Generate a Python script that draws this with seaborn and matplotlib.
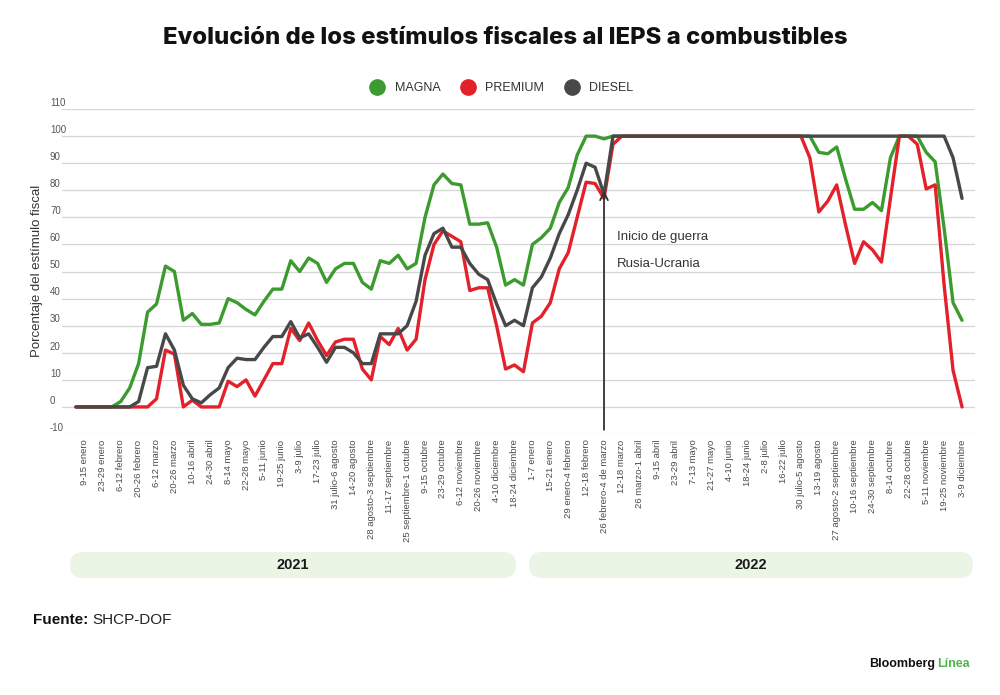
import matplotlib
matplotlib.use("Agg")
import matplotlib.pyplot as plt
import seaborn as sns
import pandas as pd
from matplotlib.lines import Line2D
from matplotlib.patches import FancyBboxPatch
from matplotlib.transforms import blended_transform_factory

# weekly values, Jan 2021 - Dec 2022 (index 0 = 2-8 enero 2021)
magna = [0, 0, 0, 0, 0, 2, 7, 16, 35, 38,
         52, 50, 32, 34.5, 30.5, 30.5, 31, 40, 38.5, 36,
         34, 39, 43.5, 43.5, 54, 50, 55, 53, 46, 51,
         53, 53, 46, 43.5, 54, 53, 56, 51, 53, 70,
         82, 86, 82.5, 82, 67.5, 67.5, 68, 59, 45, 47,
         45, 60, 62.5, 66, 75.5, 81, 93, 100, 100, 99] + [100] * 22 + \
        [100, 94, 93.5, 96, 84, 73, 73, 75.5, 72.5, 92,
         100, 100, 100, 94, 90.5, 66, 38.5, 32]
premium = [0, 0, 0, 0, 0, 0, 0, 0, 0, 3,
           21, 19.5, 0, 2.5, 0, 0, 0, 9.5, 7.5, 10,
           4, 10, 16, 16, 29, 24.5, 31, 24.5, 19, 24,
           25, 25, 14, 10, 26, 23, 29, 21, 25, 47,
           60, 65, 63, 61, 43, 44, 44, 30, 14, 15.5,
           13, 31, 33.5, 38.5, 51, 57, 70, 83, 82.5, 77,
           97] + [100] * 21 + \
          [92, 72, 76, 82, 67, 53, 61, 58, 53.5, 77,
           100, 100, 97, 80.5, 82, 45, 13.5, 0]
diesel = [0, 0, 0, 0, 0, 0, 0, 2, 14.5, 15,
          27, 21, 8, 3, 1.5, 4.5, 7, 14.5, 18, 17.5,
          17.5, 22, 26, 26, 31.5, 25.5, 27, 22, 16.5, 22,
          22, 20, 16, 16, 27, 27, 27, 30, 39, 56,
          64, 66, 59, 59, 53, 49, 47, 38, 30, 32,
          30, 44, 48, 55, 64, 71, 80, 90, 88.5, 78.5] + [100] * 38 + [92, 77]

tick_labels = [
    "9-15 enero", "23-29 enero", "6-12 febrero", "20-26 febrero", "6-12 marzo",
    "20-26 marzo", "10-16 abril", "24-30 abril", "8-14 mayo", "22-28 mayo",
    "5-11 junio", "19-25 junio", "3-9 julio", "17-23 julio", "31 julio-6 agosto",
    "14-20 agosto", "28 agosto-3 septiembre", "11-17 septiembre",
    "25 septiembre-1 octubre", "9-15 octubre", "23-29 octubre", "6-12 noviembre",
    "20-26 noviembre", "4-10 diciembre", "18-24 diciembre",
    "1-7 enero", "15-21 enero", "29 enero-4 febrero", "12-18 febrero",
    "26 febrero-4 de marzo", "12-18 marzo", "26 marzo-1 abril", "9-15 abril",
    "23-29 abril", "7-13 mayo", "21-27 mayo", "4-10 junio", "18-24 junio",
    "2-8 julio", "16-22 julio", "30 julio-5 agosto", "13-19 agosto",
    "27 agosto-2 septiembre", "10-16 septiembre", "24-30 septiembre",
    "8-14 octubre", "22-28 octubre", "5-11 noviembre", "19-25 noviembre",
    "3-9 diciembre",
]
series_names = ["MAGNA", "PREMIUM", "DIESEL"]
colors = ["#3c9b2e", "#e2212b", "#484848"]
war_week = 59

rows = []
for name, vals in zip(series_names, [magna, premium, diesel]):
    for i, v in enumerate(vals):
        rows.append({"semana": i, "valor": v, "serie": name})
df = pd.DataFrame(rows)

sns.set_theme(style="white")
plt.rcParams["font.family"] = ["Liberation Sans", "DejaVu Sans"]

fig = plt.figure(figsize=(10, 6.95), dpi=100)
ax = fig.add_axes([0.062, 0.3755, 0.913, 0.4676])

sns.lineplot(data=df, x="semana", y="valor", hue="serie", hue_order=series_names,
             palette=colors, linewidth=2.4, legend=False, ax=ax, zorder=3)

ax.set_xlim(-1.56, 100.45)
ax.set_ylim(-10, 110)
yticks = list(range(-10, 111, 10))
ax.set_yticks(yticks)
ax.set_yticklabels([])
for y in yticks:
    ax.axhline(y, color="#d6d6d6", lw=0.9, zorder=1)
ax.tick_params(axis="y", length=0)
tr = blended_transform_factory(fig.transFigure, ax.transData)
for y in yticks:
    ax.text(0.05, y + 2.3, str(y), transform=tr, ha="left", va="center",
            fontsize=7, color="#555555")

ax.set_xticks(range(1, 100, 2))
ax.set_xticklabels(tick_labels, rotation=90, fontsize=6.8, color="#4a4a4a")
ax.tick_params(axis="x", length=0, pad=4)
for s in ax.spines.values():
    s.set_visible(False)
ax.set_xlabel("")
ax.set_ylabel("")

fig.text(0.037, 0.61, "Porcentaje del estímulo fiscal", rotation=90, ha="center",
         va="center", fontsize=9.5, color="#333333")

# war annotation
ax.annotate("", xy=(war_week, 81), xytext=(war_week, -9.5),
            arrowprops=dict(arrowstyle="->", color="#333333", lw=1.3,
                            mutation_scale=14), zorder=4)
ax.text(war_week + 1.4, 62.7, "Inicio de guerra", ha="left", va="center",
        fontsize=9.5, color="#333333")
ax.text(war_week + 1.4, 52.6, "Rusia-Ucrania", ha="left", va="center",
        fontsize=9.5, color="#333333")

# legend
handles = [Line2D([], [], marker="o", linestyle="none", markersize=11,
                  markerfacecolor=c, markeredgecolor=c) for c in colors]
fig.legend(handles, series_names, loc="center", bbox_to_anchor=(0.499, 1 - 88 / 695),
           ncol=3, frameon=False, fontsize=9, handletextpad=0.4,
           columnspacing=1.2, labelcolor="#333333")

# title
fig.text(0.505, 1 - 38 / 695, "Evolución de los estímulos fiscales al IEPS a combustibles",
         ha="center", va="center", fontsize=17.2, fontweight="heavy",
         family=["Inter", "DejaVu Sans"], color="#111111")

# year bands (pixel coords)
for x0, x1, label in [(70, 516, "2021"), (529, 973, "2022")]:
    band = FancyBboxPatch((x0, 695 - 578), x1 - x0, 26,
                          boxstyle="round,pad=0,rounding_size=13",
                          transform=None, facecolor="#eaf5e6", edgecolor="none")
    fig.patches.append(band)
    fig.text((x0 + x1) / 2 / 1000, 1 - 565 / 695, label, ha="center", va="center",
             fontsize=10.5, fontweight="bold", color="#1a1a1a")

fig.text(0.033, 1 - 620 / 695, "Fuente:", ha="left", va="center", fontsize=11,
         fontweight="bold", color="#111111")
fig.text(0.092, 1 - 620 / 695, "SHCP-DOF", ha="left", va="center", fontsize=11,
         color="#222222")
fig.text(0.869, 1 - 664 / 695, "Bloomberg", ha="left", va="center", fontsize=9,
         fontweight="bold", color="#111111")
fig.text(0.937, 1 - 664 / 695, "Línea", ha="left", va="center", fontsize=9,
         fontweight="bold", color="#4cb648")

fig.savefig("out.png", dpi=100)
